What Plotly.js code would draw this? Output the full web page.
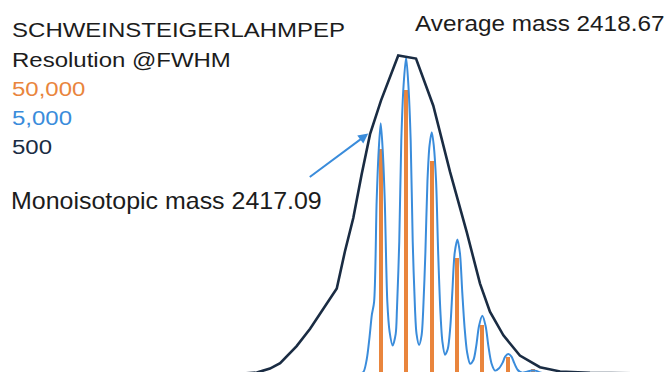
<!DOCTYPE html>
<html>
<head>
<meta charset="utf-8">
<script src="https://cdn.plot.ly/plotly-3.0.1.min.js"></script>
<style>
  html, body { margin: 0; padding: 0; background: #ffffff; }
  #chart { width: 670px; height: 372px; }
</style>
<style id="textstretch"></style>
</head>
<body>
<div id="chart"></div>
<script>
// ---------- DATA ----------
// Isotope peak centres (Da) and centroid intensities at R = 50,000 (relative %)
const isotopeMass = [2417.09, 2418.09, 2419.10, 2420.10, 2421.09, 2422.10, 2423.10];
const res50kInt   = [78.9, 100, 74.9, 40.6, 17.1, 5.8, 1.5];

// Profile at R = 5,000 (mass, relative intensity)
const res5kMass = [2413.91, 2416.20, 2416.40, 2416.54, 2416.65, 2416.74, 2416.83, 2416.93, 2417.01, 2417.09,
  2417.17, 2417.25, 2417.35, 2417.44, 2417.56,
  2417.68, 2417.73, 2417.82, 2417.90, 2417.99, 2418.09, 2418.18, 2418.27, 2418.35, 2418.44, 2418.50, 2418.60,
  2418.70, 2418.76, 2418.85, 2418.93, 2419.01, 2419.10, 2419.18, 2419.27, 2419.35, 2419.44, 2419.52, 2419.62,
  2419.73, 2419.83, 2419.91, 2420.00, 2420.11, 2420.21, 2420.30, 2420.39, 2420.49, 2420.61,
  2420.74, 2420.85, 2420.96, 2421.09, 2421.22, 2421.33, 2421.45, 2421.59,
  2421.75, 2421.89, 2421.99, 2422.11, 2422.24, 2422.34, 2422.48, 2422.64,
  2422.85, 2422.98, 2423.10, 2423.22, 2423.36, 2423.64, 2425.72];
const res5kInt = [0, 0.1, 0.5, 5.1, 12.9, 20.7, 25.3, 60.7, 78.4, 88.1,
  78.4, 60.7, 25.3, 14.7, 9.9,
  14.0, 22.8, 46.5, 81.9, 101.4, 111.3, 101.4, 81.9, 46.5, 22.8, 14.0, 10.1,
  13.6, 21.8, 43.0, 67.8, 80.2, 85.0, 80.2, 67.8, 43.0, 21.8, 11.2, 6.7,
  8.7, 16.5, 28.8, 42.3, 47.2, 42.3, 28.8, 16.5, 7.6, 3.5,
  4.8, 9.7, 16.8, 20.4, 16.8, 9.7, 3.7, 1.1,
  1.9, 3.9, 6.0, 6.9, 6.0, 3.9, 1.4, 0.4,
  0.7, 1.0, 1.1, 1.0, 0.4, 0.1, 0];

// Profile at R = 500 (mass, relative intensity)
const res500Mass = [2408.01, 2411.55, 2412.21, 2412.73, 2413.13, 2413.78, 2414.31, 2414.83, 2415.22, 2415.36,
  2415.68, 2416.01, 2416.34, 2416.67, 2417.10, 2417.78, 2418.48, 2419.16, 2419.82, 2420.48,
  2421.00, 2421.39, 2421.92, 2422.57, 2423.36, 2424.15, 2425.33, 2428.48];
const res500Int = [0, 0, 0.4, 1.8, 3.7, 9.7, 15.8, 22.8, 28.5, 30.0,
  43.0, 54.8, 70.2, 84.3, 96.1, 112.0, 110.9, 94.3, 71.0, 49.7,
  31.7, 21.8, 13.5, 6.4, 2.3, 0.8, 0.3, 0];

// Text
const peptideName   = 'SCHWEINSTEIGERLAHMPEP';
const resolutionHdr = 'Resolution @FWHM';
const resLabels     = ['50,000', '5,000', '500'];
const averageLabel  = 'Average mass 2418.67';
const monoLabel     = 'Monoisotopic mass 2417.09';

// ---------- STYLE ----------
const C_ORANGE = '#E9853D';
const C_BLUE   = '#3A8CDB';
const C_NAVY   = '#1A2C43';
const C_TEXT   = '#1c1c1c';
const FONT     = 'Liberation Sans, Arial, Helvetica, sans-serif';
const W = 670, H = 372;

const traces = [
  { type: 'bar', x: isotopeMass, y: res50kInt, width: 0.15,
    marker: { color: C_ORANGE, line: { width: 0 } }, hoverinfo: 'skip' },
  { type: 'scatter', mode: 'lines', x: res5kMass, y: res5kInt,
    line: { color: C_BLUE, width: 2, shape: 'spline', smoothing: 0.8 }, hoverinfo: 'skip' },
  { type: 'scatter', mode: 'lines', x: res500Mass, y: res500Int,
    line: { color: C_NAVY, width: 2.6, shape: 'linear' }, hoverinfo: 'skip' }
];

// annotation helper: left pixel, vertical centre pixel
function txt(text, leftPx, centrePx, size, color) {
  return { xref: 'paper', yref: 'paper', x: leftPx / W, y: 1 - centrePx / H,
    xanchor: 'left', yanchor: 'middle', showarrow: false, text: text,
    font: { family: FONT, size: size, color: color } };
}
const legendColors = [C_ORANGE, C_BLUE, C_NAVY];
const annotations = [
  txt(peptideName, 10, 29.7, 19.5, C_TEXT),
  txt(resolutionHdr, 10, 59.7, 19.5, C_TEXT),
  txt(resLabels[0], 10, 88.9, 19.5, legendColors[0]),
  txt(resLabels[1], 10, 118.2, 19.5, legendColors[1]),
  txt(resLabels[2], 10, 146.7, 19.5, legendColors[2]),
  txt(averageLabel, 413, 23.4, 22.5, C_TEXT),
  txt(monoLabel, 9, 200.2, 24, C_TEXT),
  { xref: 'x', yref: 'y', x: 2416.60, y: 84.5, ax: -60, ay: 44.6, axref: 'pixel', ayref: 'pixel',
    text: '', showarrow: true, arrowhead: 2, arrowsize: 1, arrowwidth: 2, arrowcolor: C_BLUE, standoff: 0 }
];
// horizontal stretch of the reference's lettering, per annotation
const stretch = [1.23, 1.23, 1.23, 1.23, 1.23, 1.08, 1.04];
document.getElementById('textstretch').textContent = stretch.map(function (s, i) {
  return 'g.annotation[data-index="' + i + '"] text.annotation-text{transform-box:fill-box;transform-origin:0 50%;transform:scaleX(' + s + ');}';
}).join('\n');

const layout = {
  width: W, height: H,
  margin: { l: 0, r: 0, t: 0, b: 0, pad: 0 },
  paper_bgcolor: '#ffffff', plot_bgcolor: '#ffffff',
  showlegend: false, hovermode: false,
  xaxis: { range: [2402.10, 2428.48], visible: false, fixedrange: true },
  yaxis: { range: [0.6, 131.5], visible: false, fixedrange: true },
  bargap: 0,
  annotations: annotations
};

Plotly.newPlot('chart', traces, layout, { displayModeBar: false, staticPlot: true });
</script>
</body>
</html>
